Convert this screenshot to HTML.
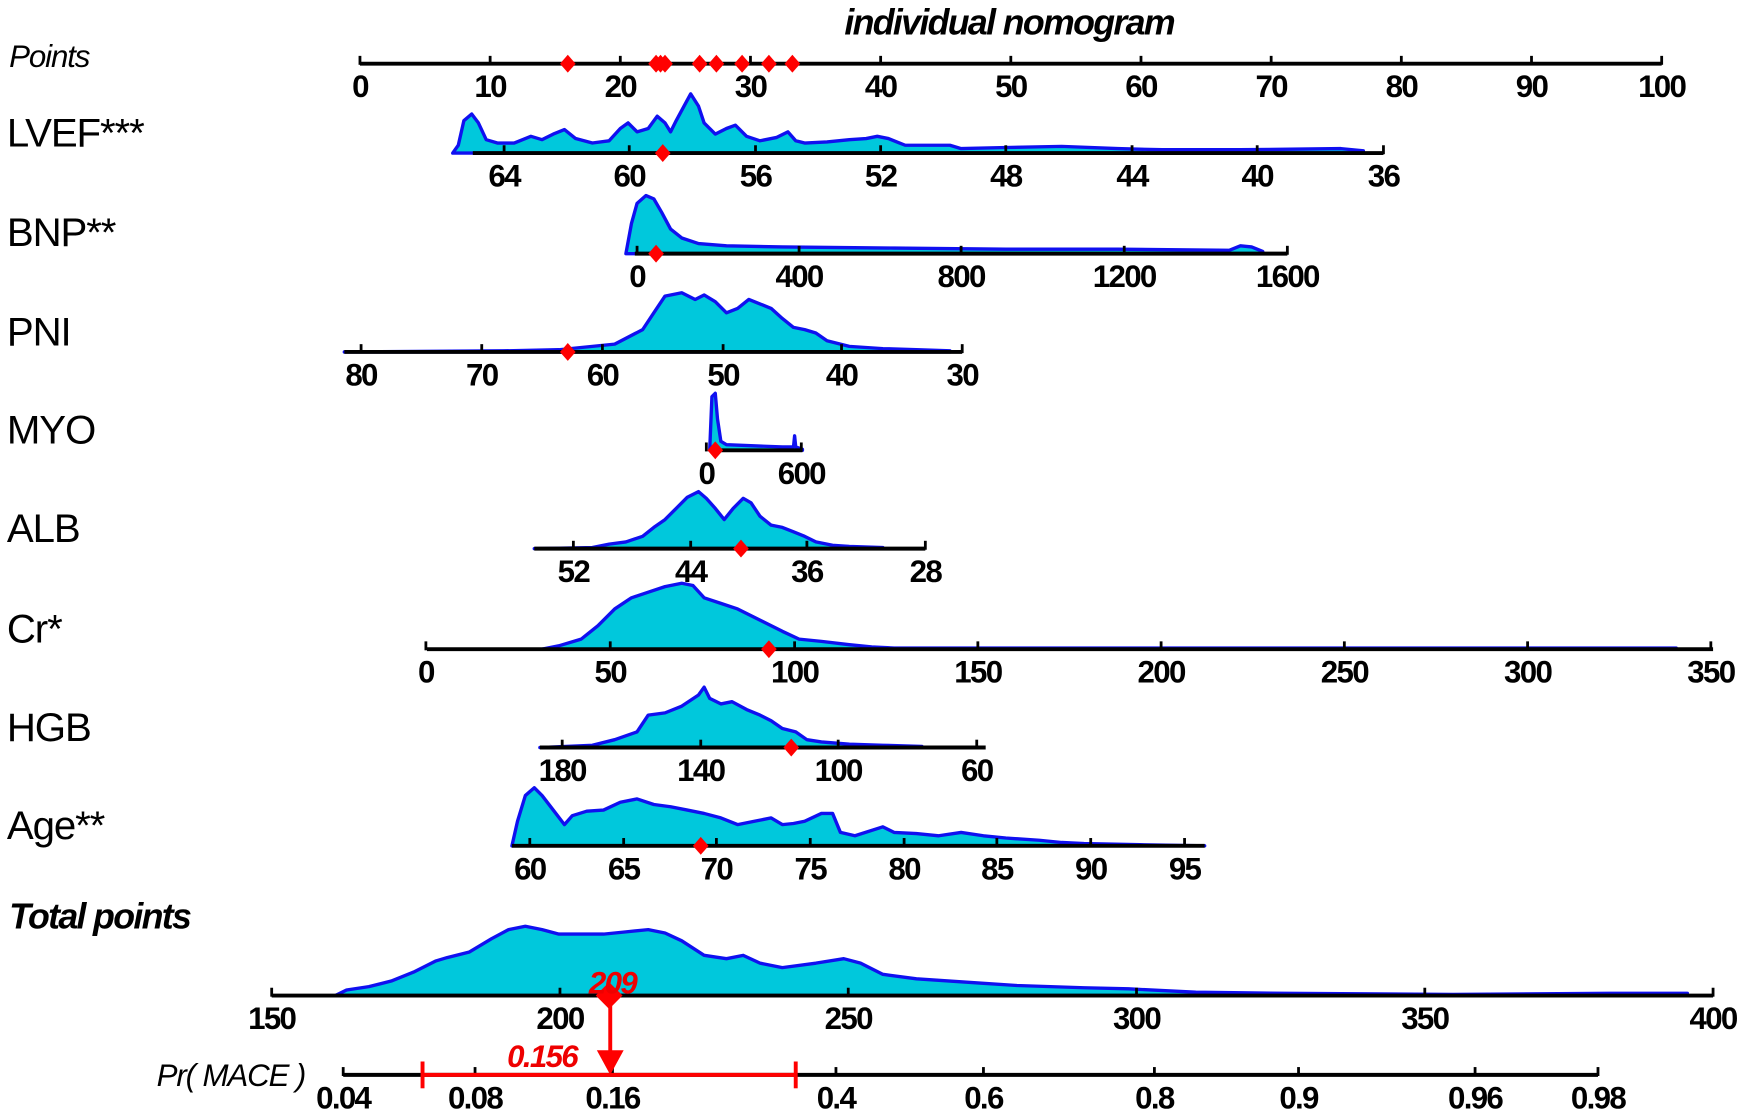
<!DOCTYPE html>
<html><head><style>
html,body{margin:0;padding:0;background:#fff;}
svg{display:block;}
text{font-family:"Liberation Sans",Arial,sans-serif;}
.t{font-size:28px;font-weight:bold;letter-spacing:-1.5px;fill:#000;text-anchor:middle;}
.lab{font-size:36px;fill:#000;letter-spacing:-1px;}
.d{fill:#00C8DC;stroke:#1010F0;stroke-width:3;stroke-linejoin:round;}
.ax{stroke:#000;stroke-width:3.5;fill:none;}
.tk{stroke:#000;stroke-width:2.5;}
</style></head><body>
<svg width="1749" height="1114" viewBox="0 0 1565 997" xmlns="http://www.w3.org/2000/svg">
<text x="903" y="31" style="font-size:32px;font-weight:bold;font-style:italic;text-anchor:middle;letter-spacing:-1.5px">individual nomogram</text>
<text x="8" y="60" style="font-size:28px;font-style:italic;letter-spacing:-1px">Points</text>
<line class="ax" x1="322" y1="57" x2="1487" y2="57"/>
<text x="6" y="131" class="lab">LVEF***</text>
<text x="6" y="220" class="lab">BNP**</text>
<text x="6" y="309" class="lab">PNI</text>
<text x="6" y="397" class="lab">MYO</text>
<text x="6" y="485" class="lab">ALB</text>
<text x="6" y="575" class="lab">Cr*</text>
<text x="6" y="663" class="lab">HGB</text>
<text x="6" y="751" class="lab">Age**</text>
<text x="8" y="831" style="font-size:32px;font-weight:bold;font-style:italic;letter-spacing:-1.5px">Total points</text>
<text x="140" y="972" style="font-size:28px;font-style:italic;letter-spacing:-1px">Pr( MACE )</text>

<polygon class="d" points="405,137 410,130 415,108 422,102 428,110 435,125 445,128 460,128 475,122 485,125 495,120 505,116 515,124 530,128 545,126 555,115 562,110 570,118 580,115 588,104 595,110 600,118 605,108 612,95 618,84 625,95 630,110 640,120 650,115 658,112 668,122 680,126 695,123 705,118 712,126 720,128 740,127 760,125 775,124 785,122 795,124 805,128 810,130 850,130 860,133 900,132 950,131 1000,133 1040,134 1110,134 1200,133 1220,135 1220,137"/>
<polygon class="d" points="560,227 565,200 570,182 578,175 585,178 592,190 600,205 610,213 625,218 650,220 700,221 800,222 900,223 1000,223 1100,224 1110,220 1120,221 1130,225 1130,227"/>
<polygon class="d" points="308,315 450,314 500,313 550,308 575,295 585,280 595,265 610,262 622,268 630,264 640,270 650,280 660,276 670,268 680,272 690,276 700,285 710,293 720,295 730,298 740,305 760,310 790,312 820,313 850,314 850,315"/>
<polygon class="d" points="635,403 637,355 640,352 642,375 645,395 650,398 700,400 710,400 711,390 712,400 718,402 718,403"/>
<polygon class="d" points="478,491 530,490 545,487 560,485 575,480 585,472 595,465 605,455 615,445 625,440 632,446 640,455 648,465 656,455 665,446 672,450 680,462 690,470 700,472 710,476 720,480 730,485 745,488 760,489 790,490 790,491"/>
<polygon class="d" points="485,581 500,578 520,572 535,560 550,545 565,535 580,530 595,525 610,522 620,524 630,535 645,540 660,545 680,555 700,565 715,572 735,574 760,577 780,579 800,580 1000,580 1500,580 1500,581"/>
<polygon class="d" points="483,669 530,667 550,662 570,655 580,640 595,638 610,632 625,622 630,615 635,625 645,630 655,628 668,635 680,640 690,645 700,652 712,655 722,662 735,664 760,666 790,667 825,668 825,669"/>
<polygon class="d" points="458,757 463,735 470,712 478,705 485,712 495,725 505,738 512,730 525,726 540,725 555,718 570,715 585,720 600,722 615,725 630,728 645,732 660,738 675,735 690,732 700,738 710,737 720,735 735,728 745,728 752,745 765,748 790,740 800,745 820,746 840,748 860,745 880,748 900,750 930,752 950,754 970,755 1020,756 1078,757"/>
<polygon class="d" points="300,891 310,886 330,883 350,878 370,870 390,860 400,857 420,852 440,840 455,832 470,829 485,832 500,836 520,836 540,836 560,834 580,832 595,835 610,842 630,855 650,858 665,855 680,862 700,866 730,862 755,858 770,862 790,872 820,876 850,878 880,880 910,882 940,883 970,884 1010,885 1070,888 1150,889 1300,890 1440,889 1510,889 1510,891"/>

<g class="ax">
<line x1="423" y1="137" x2="1238" y2="137"/>
<line x1="568" y1="227" x2="1152" y2="227"/>
<line x1="308" y1="315" x2="861" y2="315"/>
<line x1="635" y1="403" x2="718" y2="403"/>
<line x1="478" y1="491" x2="828" y2="491"/>
<line x1="382" y1="581" x2="1533" y2="581"/>
<line x1="483" y1="669" x2="882" y2="669"/>
<line x1="458" y1="757" x2="1078" y2="757"/>
<line x1="243" y1="891" x2="1533" y2="891"/>
<line x1="307" y1="962" x2="1430" y2="962"/>
</g>
<g class="tk" id="ticks"></g>
<g id="labels"></g>

<g fill="#f00">
<polygon points="508,49 515,57 508,65 501,57"/>
<polygon points="587,49 594,57 587,65 580,57"/>
<polygon points="591,49 598,57 591,65 584,57"/>
<polygon points="595,49 602,57 595,65 588,57"/>
<polygon points="626,49 633,57 626,65 619,57"/>
<polygon points="641,49 648,57 641,65 634,57"/>
<polygon points="664,49 671,57 664,65 657,57"/>
<polygon points="688,49 695,57 688,65 681,57"/>
<polygon points="709,49 716,57 709,65 702,57"/>
<polygon points="593,129 600,137 593,145 586,137"/>
<polygon points="587,219 594,227 587,235 580,227"/>
<polygon points="508,307 515,315 508,323 501,315"/>
<polygon points="640,395 647,403 640,411 633,403"/>
<polygon points="663,483 670,491 663,499 656,491"/>
<polygon points="688,573 695,581 688,589 681,581"/>
<polygon points="708,661 715,669 708,677 701,669"/>
<polygon points="627,749 634,757 627,765 620,757"/>
<polygon points="545,879 557,891 545,903 533,891"/>
<polygon points="534,940 558,940 546,962"/>
</g>
<g stroke="#f00" stroke-width="3.5">
<line x1="546" y1="891" x2="546" y2="945"/>
<line x1="378" y1="962" x2="712" y2="962"/>
<line x1="378" y1="950" x2="378" y2="974"/>
<line x1="712" y1="950" x2="712" y2="974"/>
</g>
<text x="548" y="889" style="font-size:28px;font-style:italic;font-weight:bold;letter-spacing:-1.5px;fill:#e00;text-anchor:middle">209</text>
<text x="485" y="955" style="font-size:28px;font-style:italic;font-weight:bold;letter-spacing:-1.5px;fill:#e00;text-anchor:middle">0.156</text>
</svg>
<script>
var axes=[
[57,[[322,"0"],[438.5,"10"],[555,"20"],[671.5,"30"],[788,"40"],[904.5,"50"],[1021,"60"],[1137.5,"70"],[1254,"80"],[1370.5,"90"],[1487,"100"]]],
[137,[[451,"64"],[563,"60"],[676,"56"],[788,"52"],[900,"48"],[1013,"44"],[1125,"40"],[1238,"36"]]],
[227,[[570,"0"],[715,"400"],[860,"800"],[1006,"1200"],[1152,"1600"]]],
[315,[[323,"80"],[431,"70"],[539,"60"],[647,"50"],[753,"40"],[861,"30"]]],
[403,[[632,"0"],[717,"600"]]],
[491,[[513,"52"],[618,"44"],[722,"36"],[828,"28"]]],
[581,[[381,"0"],[546,"50"],[711,"100"],[875,"150"],[1039,"200"],[1203,"250"],[1367,"300"],[1531,"350"]]],
[669,[[503,"180"],[627,"140"],[750,"100"],[874,"60"]]],
[757,[[474,"60"],[558,"65"],[641,"70"],[725,"75"],[809,"80"],[892,"85"],[976,"90"],[1060,"95"]]],
[891,[[243,"150"],[501,"200"],[759,"250"],[1017,"300"],[1275,"350"],[1533,"400"]]],
[962,[[307,"0.04"],[425,"0.08"],[548,"0.16"],[748,"0.4"],[880,"0.6"],[1033,"0.8"],[1162,"0.9"],[1320,"0.96"],[1430,"0.98"]]]
];
var NS="http://www.w3.org/2000/svg",tk=document.getElementById("ticks"),lb=document.getElementById("labels");
axes.forEach(function(a){var y=a[0];a[1].forEach(function(t){
var l=document.createElementNS(NS,"line");l.setAttribute("x1",t[0]);l.setAttribute("x2",t[0]);l.setAttribute("y1",y-7);l.setAttribute("y2",y+1);tk.appendChild(l);
var s=document.createElementNS(NS,"text");s.setAttribute("class","t");s.setAttribute("x",t[0]);s.setAttribute("y",y+30);s.textContent=t[1];lb.appendChild(s);});});
</script>
</body></html>
